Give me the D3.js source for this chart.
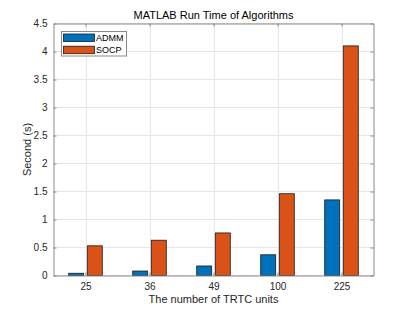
<!DOCTYPE html>
<html><head><meta charset="utf-8">
<script src="https://cdn.jsdelivr.net/npm/d3@7"></script>
<style>body{margin:0;background:#fff;} text{font-family:"Liberation Sans",Arial,sans-serif;}</style>
</head><body>
<svg id="c" width="412" height="309"></svg>
<script>
const categories = ["25","36","49","100","225"];
const seriesNames = ["ADMM","SOCP"];
const admm = [0.04, 0.08, 0.17, 0.37, 1.35];
const socp = [0.53, 0.63, 0.76, 1.46, 4.10];
const yTicks = [0,0.5,1,1.5,2,2.5,3,3.5,4,4.5];
const colors = ["#0072BD","#D95319"];
const series = [admm, socp];

const svg = d3.select("#c");
const L = 53.5, R = 373.5, T = 23.5, B = 275.5;
const x = d3.scaleLinear().domain([0.5, 5.5]).range([L, R]);
const y = d3.scaleLinear().domain([0, 4.5]).range([B, T]);
const axisColor = "#262626";

// grid
const g = svg.append("g");
g.selectAll("line.gy").data(yTicks).join("line")
  .attr("x1", L).attr("x2", R).attr("y1", d => y(d)).attr("y2", d => y(d))
  .attr("stroke", "#e6e6e6").attr("stroke-width", 1);
g.selectAll("line.gx").data(categories).join("line")
  .attr("y1", T).attr("y2", B).attr("x1", (d,i) => Math.round(x(i+1))+0.5).attr("x2", (d,i) => Math.round(x(i+1))+0.5)
  .attr("stroke", "#e6e6e6").attr("stroke-width", 1);

// bars
const offset = 9.3, bw = 15;
series.forEach((s, k) => {
  svg.append("g").selectAll("rect").data(s).join("rect")
    .attr("x", (d,i) => x(i+1) + (k === 0 ? -offset : offset) - bw/2)
    .attr("width", bw)
    .attr("y", d => y(d))
    .attr("height", d => y(0) - y(d))
    .attr("fill", colors[k])
    .attr("stroke", "#1a1a1a").attr("stroke-width", 0.8);
});

// axes
const xAxis = d3.axisBottom(x).tickValues([1,2,3,4,5]).tickFormat((d) => categories[d-1]).tickSizeInner(-3).tickSizeOuter(0).tickPadding(7);
const yAxis = d3.axisLeft(y).tickValues(yTicks).tickFormat(d3.format("")).tickSizeInner(-3).tickSizeOuter(0).tickPadding(6);
const xa = svg.append("g").attr("transform", `translate(0,${B})`).call(xAxis);
const ya = svg.append("g").attr("transform", `translate(${L},0)`).call(yAxis);
const xt = svg.append("g").attr("transform", `translate(0,${T})`).call(d3.axisTop(x).tickValues([1,2,3,4,5]).tickFormat("").tickSizeInner(-3).tickSizeOuter(0));
const yr = svg.append("g").attr("transform", `translate(${R},0)`).call(d3.axisRight(y).tickValues(yTicks).tickFormat("").tickSizeInner(-3).tickSizeOuter(0));
[xa, ya, xt, yr].forEach(a => {
  a.select("path").attr("stroke", "#8a8a8a");
  a.selectAll("line").attr("stroke", "#8a8a8a");
  a.selectAll("text").attr("fill", axisColor).style("font-size", "10px").style("font-family", "'Liberation Sans',Arial,sans-serif");
});

// title & labels
svg.append("text").attr("x", (L+R)/2).attr("y", 18.5).attr("text-anchor", "middle")
  .attr("fill", "#000").style("font-size", "11px").text("MATLAB Run Time of Algorithms");
svg.append("text").attr("x", (L+R)/2).attr("y", 302.5).attr("text-anchor", "middle")
  .attr("fill", axisColor).style("font-size", "11px").text("The number of TRTC units");
svg.append("text").attr("transform", `translate(31,${(T+B)/2}) rotate(-90)`).attr("text-anchor", "middle")
  .attr("fill", axisColor).style("font-size", "11px").text("Second (s)");

// legend
const lg = svg.append("g");
lg.append("rect").attr("x", 61.5).attr("y", 31.5).attr("width", 65).attr("height", 24.5)
  .attr("fill", "#fff").attr("stroke", "#8a8a8a").attr("stroke-width", 1);
seriesNames.forEach((n, k) => {
  lg.append("rect").attr("x", 63.5).attr("y", 34 + k*12.2).attr("width", 31).attr("height", 7.5)
    .attr("fill", colors[k]).attr("stroke", "#1a1a1a").attr("stroke-width", 0.8);
  lg.append("text").attr("x", 96).attr("y", 41.2 + k*12.2).attr("fill", "#000")
    .style("font-size", "9px").text(n);
});
</script>
</body></html>
